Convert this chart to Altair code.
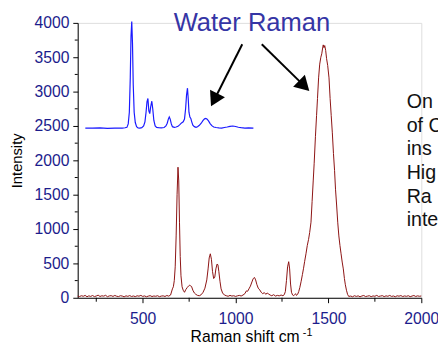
import altair as alt
import pandas as pd

FONT = "Liberation Sans"
NAVY = "#1c1c8c"
RED = "#8b1010"
BLUE = "#1a1aff"

# ---- main (red) spectrum: (Raman shift cm-1, intensity) ----
red_baseline_low = [
    (150, 25), (160, 18), (170, 30), (180, 22), (190, 35), (200, 15), (210, 28), (220, 20),
    (230, 33), (240, 17), (250, 26), (260, 38), (270, 19), (280, 29), (290, 24), (300, 36),
    (310, 16), (320, 27), (330, 31), (340, 20), (350, 34), (360, 22), (370, 18), (380, 30),
    (390, 25), (400, 14), (410, 28), (420, 21), (430, 32), (440, 19), (450, 26), (460, 17),
    (470, 29), (480, 23), (490, 35), (500, 20), (510, 27), (520, 15), (530, 24), (540, 31),
    (550, 18), (560, 26), (570, 22), (580, 30), (590, 16), (600, 25), (610, 28), (620, 19),
    (630, 33), (640, 24), (650, 40),
]
red_peaks_mid = [
    (660, 130), (665, 160), (670, 250), (675, 450), (680, 900), (685, 1500), (690, 1900),
    (694, 1700), (698, 1100), (702, 600), (706, 320), (712, 160), (718, 110), (725, 80),
    (732, 120), (740, 150), (748, 175), (753, 185), (758, 170), (763, 165), (770, 110),
    (778, 70), (786, 50), (795, 35), (805, 30), (815, 45), (825, 80), (835, 140), (845, 260),
    (852, 420), (858, 580), (864, 640), (870, 560), (876, 380), (882, 280), (888, 300),
    (894, 420), (900, 490), (905, 480), (910, 380), (916, 240), (922, 130), (930, 70),
    (940, 40), (950, 30), (960, 22), (970, 35), (980, 25), (990, 30), (1000, 20), (1010, 28),
    (1020, 35), (1030, 26), (1040, 40), (1050, 60), (1058, 100), (1065, 95), (1072, 130),
    (1080, 170), (1088, 230), (1095, 280), (1102, 295), (1108, 260), (1115, 190), (1122, 140),
    (1130, 115), (1138, 80), (1146, 60), (1155, 75), (1163, 50), (1170, 70), (1178, 55),
    (1186, 40), (1195, 30), (1205, 45), (1215, 25), (1225, 35), (1235, 28), (1245, 40),
    (1255, 30), (1262, 45), (1268, 90), (1274, 250), (1280, 450), (1286, 525), (1291, 420),
    (1296, 200), (1301, 80), (1307, 40), (1313, 30), (1318, 45), (1323, 60), (1328, 35),
]
red_main_band = [
    (1334, 50), (1340, 90), (1346, 150), (1353, 240), (1360, 340), (1366, 430), (1372, 530),
    (1379, 640), (1386, 760), (1393, 850), (1399, 950), (1406, 1100), (1412, 1400),
    (1418, 1700), (1423, 1950), (1430, 2350), (1436, 2650), (1441, 2900), (1447, 3200),
    (1453, 3400), (1459, 3500), (1464, 3550), (1468, 3620), (1472, 3680), (1476, 3640),
    (1480, 3670), (1485, 3600), (1490, 3480), (1496, 3380), (1503, 3200), (1509, 2900),
    (1515, 2650), (1521, 2400), (1527, 2100), (1533, 1850), (1538, 1580), (1544, 1350),
    (1550, 1100), (1556, 900), (1562, 760), (1568, 640), (1574, 520), (1580, 420),
    (1586, 280), (1591, 190), (1597, 110), (1603, 50), (1609, 20),
]
red_baseline_high = [
    (1620, 25), (1630, 15), (1640, 30), (1650, 20), (1660, 28), (1670, 14), (1680, 26),
    (1690, 33), (1700, 18), (1710, 24), (1720, 30), (1730, 16), (1740, 27), (1750, 22),
    (1760, 35), (1770, 19), (1780, 25), (1790, 31), (1800, 17), (1810, 28), (1820, 22),
    (1830, 34), (1840, 20), (1850, 26), (1860, 15), (1870, 29), (1880, 23), (1890, 32),
    (1900, 18), (1910, 27), (1920, 21), (1930, 30), (1940, 16), (1950, 25), (1960, 33),
    (1970, 19), (1980, 28), (1990, 22), (2000, 26),
]

# ---- inset (blue) spectrum, placed in the main chart's coordinates ----
inset_spectrum = [
    (191, 2470), (230, 2468), (270, 2472), (310, 2466), (350, 2470), (390, 2468),
    (405, 2474), (415, 2480), (422, 2530), (428, 2700), (433, 3200), (437, 3800),
    (441, 4020), (445, 3700), (449, 3100), (454, 2700), (460, 2550), (467, 2490),
    (475, 2472), (485, 2470), (495, 2475), (505, 2500), (512, 2560), (518, 2700),
    (523, 2850), (528, 2900), (533, 2720), (538, 2680), (543, 2780), (549, 2860),
    (554, 2750), (560, 2580), (567, 2500), (575, 2480), (585, 2475), (600, 2472),
    (615, 2478), (625, 2500), (632, 2540), (638, 2600), (643, 2630), (648, 2600),
    (654, 2530), (660, 2490), (670, 2480), (680, 2485), (690, 2495), (700, 2520),
    (709, 2545), (718, 2560), (725, 2600), (731, 2750), (736, 2950), (741, 3050),
    (745, 2900), (749, 2700), (754, 2630), (759, 2610), (764, 2560), (770, 2510),
    (778, 2490), (787, 2480), (795, 2490), (805, 2510), (815, 2540), (825, 2580),
    (833, 2605), (840, 2610), (847, 2600), (855, 2570), (863, 2535), (872, 2505),
    (882, 2485), (895, 2478), (910, 2472), (925, 2470), (940, 2478), (955, 2485),
    (970, 2495), (985, 2500), (1000, 2492), (1015, 2482), (1030, 2475), (1050, 2470),
    (1070, 2472), (1096, 2468),
]

# ---- axes ----
x_major = [500, 1000, 1500, 2000]
x_minor = [250, 750, 1250, 1750]
y_major = [0, 500, 1000, 1500, 2000, 2500, 3000, 3500, 4000]
y_minor = [250, 750, 1250, 1750, 2250, 2750, 3250, 3750]

# ---- annotations (in data units) ----
label_text = ["Water Raman"]
label_x = [1088]
label_y = [4000]

arrow_x = [1036, 1141]
arrow_y = [3690, 3690]
arrow_x2 = [891, 1360]
arrow_y2 = [2911, 3109]
arrow_angle = [206.6, 134.6]

side_text = ["On", "of C", "ins", "Hig", "Ra", "inte"]
side_x = [1921] * 6
side_y = [2757, 2414, 2071, 1729, 1386, 1043]

sup_text = ["-1"]
sup_x = [1362]
sup_y = [-560]

xs = alt.Scale(domain=[150, 2000], nice=False, zero=False)
ys = alt.Scale(domain=[0, 4000], nice=False)

x_axis = alt.Axis(
    values=x_major, tickSize=5, labelPadding=8, labelFontSize=16, labelFont=FONT,
    labelColor=NAVY, title="Raman shift cm", titleFont=FONT, titleFontSize=16,
    titleFontWeight="normal", titleColor="black", titleX=170, titleY=44.5,
    titleBaseline="alphabetic", titleAlign="center", domainColor="black",
    tickColor="black", grid=False, labelFlush=False, format="d")
y_axis = alt.Axis(
    values=y_major, tickSize=5, labelPadding=4, labelFontSize=16, labelFont=FONT,
    labelColor=NAVY, title="Intensity", titleFont=FONT, titleFontSize=15,
    titleFontWeight="normal", titleColor="black", titleX=-62, titleY=140,
    titleAngle=270, titleAlign="center", titleBaseline="middle",
    domainColor="black", tickColor="black", grid=False, format="d")


def X(field):
    return alt.X(field, scale=xs, axis=x_axis)


def Y(field):
    return alt.Y(field, scale=ys, axis=y_axis)


red_df = pd.DataFrame(red_baseline_low + red_peaks_mid + red_main_band + red_baseline_high,
                      columns=["shift", "intensity"])
inset_df = pd.DataFrame(inset_spectrum, columns=["shift", "intensity"])

red = alt.Chart(red_df).mark_line(color=RED, strokeWidth=1).encode(
    x=X("shift:Q"), y=Y("intensity:Q"))

inset = alt.Chart(inset_df).mark_line(color=BLUE, strokeWidth=1.2).encode(
    x=X("shift:Q"), y=Y("intensity:Q"))

xminor = alt.Chart(pd.DataFrame({"v": x_minor})).mark_rule(color="black", strokeWidth=1).encode(
    x=X("v:Q"), y=alt.value(280), y2=alt.value(284))
yminor = alt.Chart(pd.DataFrame({"v": y_minor})).mark_rule(color="black", strokeWidth=1).encode(
    y=Y("v:Q"), x=alt.value(0), x2=alt.value(-3))

label = alt.Chart(pd.DataFrame({"x": label_x, "y": label_y, "t": label_text})).mark_text(
    font=FONT, fontSize=26, color="#3535a5", align="center", baseline="middle").encode(
    x=X("x:Q"), y=Y("y:Q"), text="t:N")

arrows_df = pd.DataFrame({"x": arrow_x, "y": arrow_y, "x2": arrow_x2, "y2": arrow_y2,
                          "a": arrow_angle})
shafts = alt.Chart(arrows_df).mark_rule(color="black", strokeWidth=2).encode(
    x=X("x:Q"), y=Y("y:Q"), x2="x2:Q", y2="y2:Q")
heads = alt.Chart(arrows_df).mark_point(shape="triangle", filled=True, size=289,
                                        color="black", opacity=1).encode(
    x=X("x2:Q"), y=Y("y2:Q"), angle=alt.Angle("a:Q", scale=None))

side = alt.Chart(pd.DataFrame({"x": side_x, "y": side_y, "t": side_text})).mark_text(
    font=FONT, fontSize=20, color="#111111", align="left", baseline="alphabetic").encode(
    x=X("x:Q"), y=Y("y:Q"), text="t:N")

sup = alt.Chart(pd.DataFrame({"x": sup_x, "y": sup_y, "t": sup_text})).mark_text(
    font=FONT, fontSize=11, color="black", align="left", baseline="alphabetic").encode(
    x=X("x:Q"), y=Y("y:Q"), text="t:N")

chart = alt.layer(red, inset, xminor, yminor, label, shafts, heads, side, sup).properties(
    width=350, height=280,
    autosize=alt.AutoSizeParams(type="none"),
    padding={"left": 71, "top": 12, "right": 17, "bottom": 49},
).configure_view(stroke=None).configure(background="white")

chart.save("out.html", embed_options={"renderer": "svg", "actions": False})
